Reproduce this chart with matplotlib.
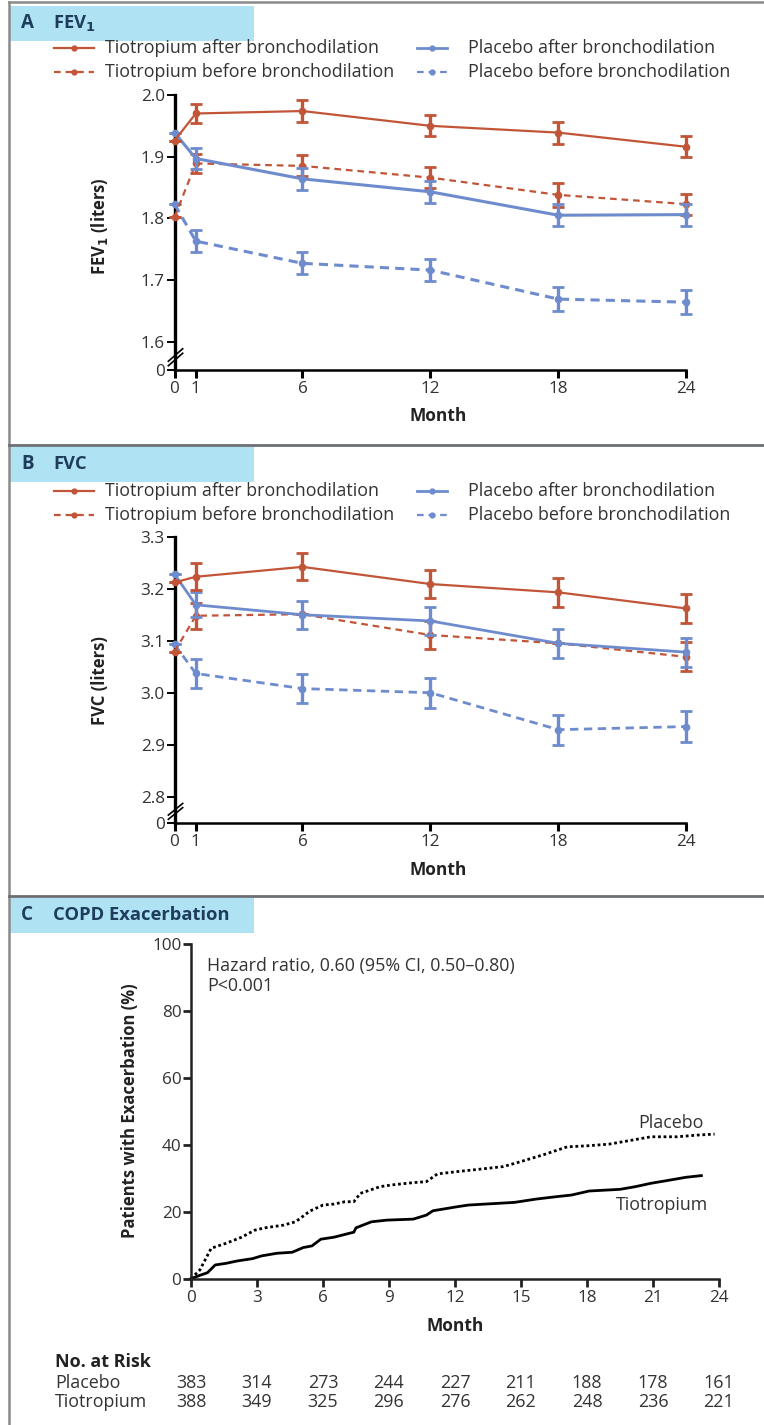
import matplotlib
matplotlib.use("Agg")
import matplotlib.pyplot as plt
from matplotlib.lines import Line2D
from matplotlib.patches import Rectangle
from matplotlib.transforms import blended_transform_factory
import numpy as np

plt.rcParams['font.family'] = ['Open Sans', 'DejaVu Sans']

# ---------------- data ----------------
months = [0, 1, 6, 12, 18, 24]

fev_tio_after = [1.926, 1.970, 1.974, 1.950, 1.939, 1.916]
fev_tio_after_err = [0, 0.016, 0.018, 0.017, 0.018, 0.017]
fev_pla_after = [1.939, 1.897, 1.864, 1.843, 1.805, 1.806]
fev_pla_after_err = [0, 0.017, 0.018, 0.018, 0.018, 0.018]
fev_tio_before = [1.802, 1.889, 1.885, 1.866, 1.838, 1.823]
fev_tio_before_err = [0, 0.015, 0.017, 0.017, 0.019, 0.017]
fev_pla_before = [1.823, 1.763, 1.727, 1.716, 1.669, 1.664]
fev_pla_before_err = [0, 0.0175, 0.018, 0.0175, 0.019, 0.019]

fvc_tio_after = [3.212, 3.223, 3.242, 3.209, 3.193, 3.162]
fvc_tio_after_err = [0, 0.026, 0.026, 0.027, 0.028, 0.028]
fvc_pla_after = [3.228, 3.169, 3.150, 3.138, 3.095, 3.078]
fvc_pla_after_err = [0, 0.024, 0.027, 0.027, 0.028, 0.028]
fvc_tio_before = [3.079, 3.148, 3.151, 3.111, 3.095, 3.069]
fvc_tio_before_err = [0, 0.025, 0.0, 0.026, 0.0, 0.028]
fvc_pla_before = [3.093, 3.037, 3.008, 3.000, 2.929, 2.935]
fvc_pla_before_err = [0, 0.027, 0.028, 0.029, 0.029, 0.029]

km_pla_t = [0, 0.4, 0.92, 1.6, 2.3, 2.9, 3.36, 4.2, 4.75, 5.1, 5.4, 6.0, 6.5, 7.0, 7.4,
            7.7, 8.6, 9.1, 10.1, 10.7, 11.2, 12.1, 13.1, 14.2, 15.0, 16.1, 17.1, 18.0,
            19.0, 20.05, 20.9, 22.1, 23.0, 23.8]
km_pla_y = [0, 2.6, 9.1, 10.6, 12.4, 14.5, 15.2, 16.0, 17.0, 18.7, 20.2, 22.0, 22.3, 23.0, 23.0,
            25.5, 27.5, 28.0, 28.7, 29.0, 31.3, 32.0, 32.7, 33.5, 35.0, 37.2, 39.4, 39.7,
            40.2, 41.4, 42.4, 42.4, 42.9, 43.2]
km_tio_t = [0, 0.4, 0.75, 1.1, 1.6, 2.1, 2.8, 3.2, 3.9, 4.6, 5.1, 5.5, 5.9, 6.5, 7.4, 7.5,
            8.2, 8.9, 10.1, 10.7, 11.0, 12.1, 12.6, 14.7, 15.7, 16.6, 17.3, 18.1, 19.5,
            20.2, 20.9, 21.8, 22.5, 23.2]
km_tio_y = [0, 1.0, 1.8, 4.1, 4.6, 5.3, 6.0, 6.8, 7.6, 7.9, 9.3, 9.8, 11.8, 12.4, 13.9, 15.2,
            17.0, 17.5, 17.8, 19.0, 20.3, 21.5, 22.0, 22.8, 23.8, 24.5, 25.0, 26.2, 26.7,
            27.5, 28.5, 29.5, 30.3, 30.8]

risk_months = [0, 3, 6, 9, 12, 15, 18, 21, 24]
risk_placebo = [383, 314, 273, 244, 227, 211, 188, 178, 161]
risk_tiotropium = [388, 349, 325, 296, 276, 262, 248, 236, 221]

# ---------------- styles ----------------
RED = '#c25538'
BLUE = '#6e8ccd'
NAVY = '#1e3d5c'
HEAD = '#afe3f4'
TXT = '#333333'
DARK = '#222222'
FS = 12.9      # body text
FT = 12.3      # tick labels
W, H = 764, 1425

fig = plt.figure(figsize=(W / 100, H / 100), dpi=100)
fig.patch.set_facecolor('white')


def px_axes(x0, y0, x1, y1, **kw):
    return fig.add_axes([x0 / W, 1 - y1 / H, (x1 - x0) / W, (y1 - y0) / H], **kw)


# overlay in pixel coords
ov = fig.add_axes([0, 0, 1, 1], zorder=-1)
ov.set_xlim(0, W)
ov.set_ylim(H, 0)
ov.axis('off')

# frame & separators
GRAY = '#6b6f73'
ov.add_line(Line2D([9, 9], [2, H], color='#8a8a8a', lw=1.8))
ov.add_line(Line2D([9, W], [2, 2], color='#8a8a8a', lw=1.8))
for ysep in [445, 896]:
    ov.add_line(Line2D([9, W], [ysep, ysep], color=GRAY, lw=2.0))

# header boxes
for (ytop, letter, title) in [(6, 'A', 'FEV$_\\mathbf{1}$'), (447, 'B', 'FVC'),
                              (898, 'C', 'COPD Exacerbation')]:
    ov.add_patch(Rectangle((10, ytop), 244, 35, facecolor=HEAD, edgecolor='none'))
    ov.text(21, ytop + 17, letter, color=NAVY, fontsize=13.5, fontweight='bold', va='center')
    ov.text(53, ytop + 17, title, color=NAVY, fontsize=13.2, fontweight='bold', va='center')


def legend_block(ytop):
    items = [
        (54, 94, 105, ytop, RED, '-', 1.6, 'Tiotropium after bronchodilation'),
        (417, 447, 468, ytop, BLUE, '-', 2.0, 'Placebo after bronchodilation'),
        (54, 94, 105, ytop + 24, RED, (0, (3, 2.2)), 1.6, 'Tiotropium before bronchodilation'),
        (417, 447, 468, ytop + 24, BLUE, (0, (3, 2.2)), 1.6, 'Placebo before bronchodilation'),
    ]
    for x0, x1, xt, y, c, ls, lw, lab in items:
        ov.add_line(Line2D([x0, x1], [y, y], color=c, ls=ls, lw=lw))
        ov.plot([(x0 + x1) / 2], [y], 'o', color=c, ms=3.5)
        ov.text(xt, y, lab, fontsize=FS, color=TXT, va='center')


legend_block(48)
legend_block(491)


def spiro_panel(ytop_px, ybot_px, ylo, yhi, ticks, tick_labels, series, ylabel, ylabel_y, month_y):
    ax = px_axes(174.5, ytop_px, 686.3, ybot_px)
    ax.set_xlim(0, 24)
    ax.set_ylim(ylo, yhi)
    for s in ['top', 'right']:
        ax.spines[s].set_visible(False)
    ax.spines['left'].set_linewidth(2.4)
    ax.spines['bottom'].set_linewidth(1.8)
    ax.set_xticks(months)
    ax.set_xticklabels([str(m) for m in months])
    ax.set_yticks([ylo] + ticks)
    ax.set_yticklabels(['0'] + tick_labels)
    ax.tick_params(axis='x', length=6, width=2.2, labelsize=FT, labelcolor=TXT, pad=2)
    ax.tick_params(axis='y', length=6, width=1.4, labelsize=FT, labelcolor=TXT, pad=1)
    ax.set_facecolor('none')
    for y, err, c, ls, lw, z in series:
        ax.errorbar(months, y, yerr=err, color=c, ls=ls, lw=lw, marker='o', ms=4.5,
                    elinewidth=2.4, capsize=4, capthick=2.0, clip_on=False, zorder=z)
    # break marks
    yb = ylo + (ticks[0] - ylo) * 0.45
    tr = blended_transform_factory(ax.transAxes, ax.transData)
    dy = (ticks[0] - ylo) * 0.22
    for off in (-0.18, 0.18):
        ax.add_line(Line2D([-0.012, 0.016], [yb - dy + off * dy * 2, yb + dy + off * dy * 2],
                           color='black', lw=1.2, transform=tr, clip_on=False))
    ov.text(100, ylabel_y, ylabel, rotation=90, fontsize=12, fontweight='bold',
            ha='center', va='center', color=DARK)
    ov.text(438, month_y, 'Month', fontsize=12.5, fontweight='bold', ha='center', va='center',
            color=DARK)
    return ax


spiro_panel(95, 370, 1.554, 2.0, [1.6, 1.7, 1.8, 1.9, 2.0], ['1.6', '1.7', '1.8', '1.9', '2.0'],
            [(fev_pla_before, fev_pla_before_err, BLUE, (0, (3, 2)), 2.2, 3),
             (fev_tio_before, fev_tio_before_err, RED, (0, (3, 2.2)), 1.6, 4),
             (fev_pla_after, fev_pla_after_err, BLUE, '-', 2.2, 5),
             (fev_tio_after, fev_tio_after_err, RED, '-', 1.6, 6)],
            'FEV$_\\mathbf{1}$ (liters)', 226, 416)

spiro_panel(536.7, 823.3, 2.749, 3.3, [2.8, 2.9, 3.0, 3.1, 3.2, 3.3],
            ['2.8', '2.9', '3.0', '3.1', '3.2', '3.3'],
            [(fvc_pla_before, fvc_pla_before_err, BLUE, (0, (3, 2)), 2.0, 3),
             (fvc_tio_before, fvc_tio_before_err, RED, (0, (3, 2.2)), 1.6, 4),
             (fvc_pla_after, fvc_pla_after_err, BLUE, '-', 2.0, 5),
             (fvc_tio_after, fvc_tio_after_err, RED, '-', 1.6, 6)],
            'FVC (liters)', 681, 870)

# ---------------- panel C ----------------
axc = px_axes(191, 944, 719, 1278.7)
axc.set_xlim(0, 24)
axc.set_ylim(0, 100)
axc.set_facecolor('none')
for s in ['top', 'right']:
    axc.spines[s].set_visible(False)
axc.spines['left'].set_linewidth(1.8)
axc.spines['bottom'].set_linewidth(1.8)
axc.spines['left'].set_color(DARK)
axc.spines['bottom'].set_color(DARK)
axc.set_xticks(risk_months)
axc.set_yticks([0, 20, 40, 60, 80, 100])
axc.tick_params(axis='x', length=6, width=2.0, labelsize=FT, labelcolor=TXT, color=DARK, pad=2)
axc.tick_params(axis='y', length=6, width=2.0, labelsize=FT, labelcolor=TXT, color=DARK, pad=1)
axc.plot(km_pla_t, km_pla_y, color='black', ls=(0, (1, 1)), lw=2.0, clip_on=False)
axc.plot(km_tio_t, km_tio_y, color='black', ls='-', lw=2.0, clip_on=False)
axc.text(21.8, 46.4, 'Placebo', fontsize=FS, color=TXT, ha='center', va='center')
axc.text(21.4, 22.0, 'Tiotropium', fontsize=FS, color=TXT, ha='center', va='center')

ov.text(207, 966, 'Hazard ratio, 0.60 (95% CI, 0.50\u20130.80)', fontsize=FS, color=TXT, va='center')
ov.text(207, 986, 'P<0.001', fontsize=FS, color=TXT, va='center')
ov.text(130, 1111, 'Patients with Exacerbation (%)', rotation=90, fontsize=12, fontweight='bold',
        ha='center', va='center', color=DARK)
ov.text(455, 1326, 'Month', fontsize=12.5, fontweight='bold', ha='center', va='center',
        color=DARK)

ov.text(55, 1362, 'No. at Risk', fontsize=13, fontweight='bold', va='center', color=DARK)
ov.text(55, 1383, 'Placebo', fontsize=FS, va='center', color=TXT)
ov.text(55, 1402, 'Tiotropium', fontsize=FS, va='center', color=TXT)
trr = blended_transform_factory(axc.transData, ov.transData)
for m, p, t in zip(risk_months, risk_placebo, risk_tiotropium):
    axc.text(m, 1383, str(p), transform=trr, fontsize=FS, ha='center', va='center', color=TXT,
             clip_on=False)
    axc.text(m, 1402, str(t), transform=trr, fontsize=FS, ha='center', va='center', color=TXT,
             clip_on=False)

fig.savefig('out.png', dpi=100)
